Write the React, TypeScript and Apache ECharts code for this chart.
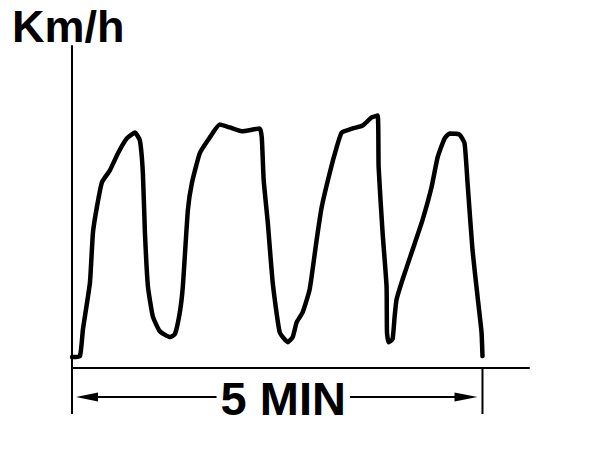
import React, { useEffect, useRef } from "react";
import * as echarts from "echarts";

// elapsed time (seconds) and speed (relative km/h units)
const timeSec = [
  0, 5.8, 8.0, 13.1, 15.3, 18.2, 21.9, 27.7, 33.6, 40.1, 46.0, 49.6, 51.8, 53.3, 55.5, 59.1,
  64.2, 71.5, 75.2, 78.8, 81.0, 84.7, 87.6, 93.4, 100.7, 108.0, 115.3, 124.1, 137.2, 138.7,
  140.1, 143.1, 146.7, 151.8, 157.7, 161.3, 164.2, 168.6, 173.7, 178.8, 182.5, 188.3, 193.4,
  197.1, 205.1, 212.4, 219.0, 223.4, 224.1, 227.0, 229.9, 230.2, 231.4, 234.3, 235.8, 237.2,
  241.6, 248.9, 256.2, 262.8, 267.2, 272.3, 275.9, 283.2, 286.9, 289.1, 292.7, 296.4, 299.3, 300,
];
const speed = [
  3.4, 3.7, 12.0, 26.5, 42.0, 50.0, 57.7, 61.4, 66.7, 71.3, 73.1, 70.7, 60.5, 42.0, 25.3, 16.0,
  11.4, 9.6, 10.5, 17.3, 25.3, 49.1, 57.4, 66.7, 71.6, 75.6, 74.7, 73.5, 74.4, 71.6,
  58.3, 45.1, 26.5, 11.1, 8.0, 9.6, 14.2, 17.3, 24.4, 39.8, 50.0, 60.5, 68.5,
  73.1, 74.4, 75.3, 77.8, 78.4, 62.3, 42.0, 25.3, 11.1, 8.0, 9.0, 16.0, 21.3,
  27.5, 36.7, 46.0, 56.2, 65.4, 71.3, 72.8, 72.5, 69.8, 57.4, 36.7, 22.2, 11.1, 3.7,
];
const yTitle = "Km/h";
const spanLabel = "5 MIN";
const spanStart = 0;
const spanEnd = 300;

export default function App() {
  const ref = useRef<HTMLDivElement>(null);
  useEffect(() => {
    document.body.style.margin = "0";
    const chart = echarts.init(ref.current!, null, { renderer: "svg" });
    const axisCommon = {
      axisLine: { show: true, lineStyle: { color: "#000", width: 2 } },
      axisTick: { show: false },
      axisLabel: { show: false },
      splitLine: { show: false },
    };
    chart.setOption({
      animation: false,
      backgroundColor: "#fff",
      title: {
        text: yTitle,
        left: 12,
        top: 3,
        padding: 0,
        textStyle: {
          fontSize: 45,
          lineHeight: 46,
          fontWeight: "bold",
          fontFamily: "Liberation Sans, Arial, sans-serif",
          color: "#000",
        },
      },
      grid: { left: 72, right: 79, top: 46, bottom: 100 },
      xAxis: { type: "value", min: 0, max: 334, ...axisCommon },
      yAxis: { type: "value", min: 0, max: 100, ...axisCommon },
      series: [
        {
          type: "line",
          data: timeSec.map((t, i) => [t, speed[i]]),
          showSymbol: false,
          smooth: 0.15,
          lineStyle: { color: "#000", width: 4.5, join: "round", cap: "round" },
        },
      ],
    });
    const p0 = chart.convertToPixel({ gridIndex: 0 }, [spanStart, 0]) as number[];
    const p1 = chart.convertToPixel({ gridIndex: 0 }, [spanEnd, 0]) as number[];
    const x0 = p0[0];
    const x1 = p1[0];
    const yb = p0[1];
    const ya = yb + 29;
    const black = { stroke: "#000", lineWidth: 2 };
    chart.setOption({
      graphic: [
        { type: "line", shape: { x1: x0, y1: yb, x2: x0, y2: yb + 46 }, style: black, z: 10 },
        { type: "line", shape: { x1: x1, y1: yb, x2: x1, y2: yb + 46 }, style: black, z: 10 },
        { type: "line", shape: { x1: x0 + 20, y1: ya, x2: x1 - 20, y2: ya }, style: black, z: 10 },
        {
          type: "polygon",
          shape: { points: [[x0 + 4, ya], [x0 + 26, ya - 4.5], [x0 + 26, ya + 4.5]] },
          style: { fill: "#000" },
          z: 11,
        },
        {
          type: "polygon",
          shape: { points: [[x1 - 5, ya], [x1 - 28, ya - 4.5], [x1 - 28, ya + 4.5]] },
          style: { fill: "#000" },
          z: 11,
        },
        {
          type: "text",
          x: (x0 + x1) / 2 + 6,
          y: ya + 1,
          z: 12,
          style: {
            text: spanLabel,
            fontSize: 47,
            fontWeight: "bold",
            fontFamily: "Liberation Sans, Arial, sans-serif",
            fill: "#000",
            align: "center",
            verticalAlign: "middle",
            backgroundColor: "#fff",
            padding: [0, 4],
          },
        },
      ],
    });
    return () => chart.dispose();
  }, []);
  return <div ref={ref} style={{ width: 608, height: 468 }} />;
}
